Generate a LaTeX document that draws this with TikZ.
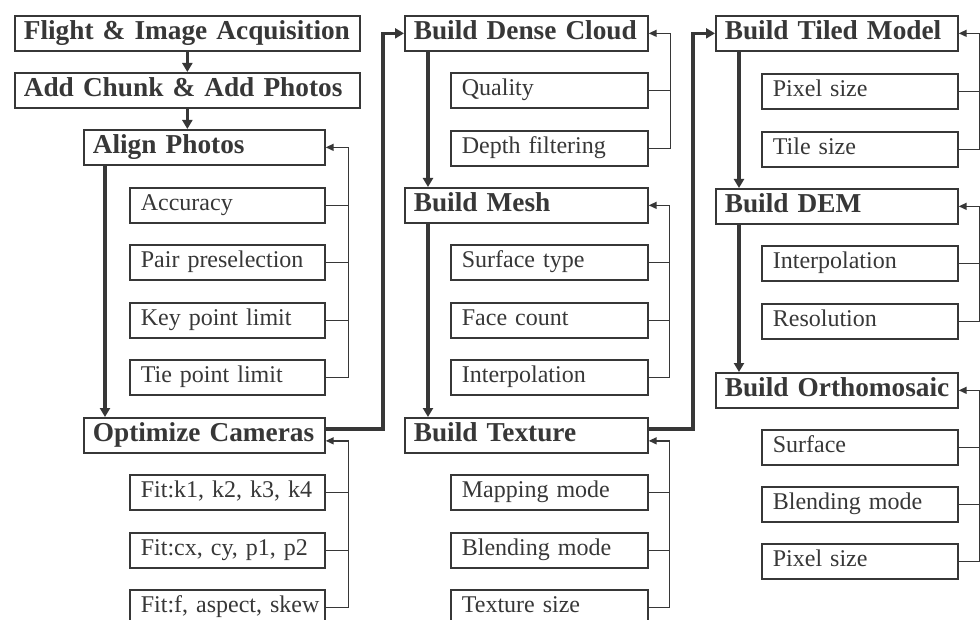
\documentclass[tikz,border=0pt]{standalone}
\usepackage{fontspec}
\setmainfont{Liberation Serif}
\usetikzlibrary{arrows.meta}
\definecolor{ink}{RGB}{55,55,55}
\tikzset{
  box/.style={draw=ink, line width=1.7pt, anchor=north west, inner ysep=0pt,
    minimum height=35pt, align=left, text=ink},
  mainbox/.style={box, inner xsep=9pt, font=\bfseries\fontsize{27.3}{30}\selectfont,
    text height=19pt, text depth=6pt, text width=#1},
  subbox/.style={box, inner xsep=11pt, font=\fontsize{24}{28}\selectfont,
    text height=17pt, text depth=6pt, text width=#1},
  flow/.style={draw=ink, line width=3.4pt, -{Triangle[length=9pt,width=10pt]}},
  fbline/.style={draw=ink, line width=1.5pt},
  fbarrow/.style={fbline, -{Triangle[length=8pt,width=7pt]}}
}
\begin{document}
\begin{tikzpicture}[x=1pt,y=-1pt]
\useasboundingbox (0,0) rectangle (980,620);
\fill[white] (0,0) rectangle (980,620);

% --- column 1: alignment stage ---
\node[mainbox=327pt] (flight) at (14,15) {\mbox{Flight \& Image Acquisition}};
\node[mainbox=327pt] (chunk)  at (14,72) {\mbox{Add Chunk \& Add Photos}};
\node[mainbox=223pt] (align)  at (83,129) {Align Photos};
\node[subbox=173pt] (acc)  at (129,187) {Accuracy};
\node[subbox=173pt] (pair) at (129,244) {Pair preselection};
\node[subbox=173pt] (key)  at (129,302) {Key point limit};
\node[subbox=173pt] (tie)  at (129,359) {Tie point limit};
\node[mainbox=223pt] (optim) at (83,417) {\mbox{Optimize Cameras}};
\node[subbox=173pt] (fitk) at (129,474) {\mbox{Fit:k1, k2, k3, k4}};
\node[subbox=173pt] (fitc) at (129,532) {\mbox{Fit:cx, cy, p1, p2}};
\node[subbox=173pt] (fitf) at (129,589) {\mbox{Fit:f, aspect, skew}};

% --- column 2: dense reconstruction ---
\node[mainbox=225pt] (dense) at (404,15) {\mbox{Build Dense Cloud}};
\node[subbox=175pt] (qual)  at (450,72) {Quality};
\node[subbox=175pt] (depth) at (450,130) {Depth filtering};
\node[mainbox=225pt] (mesh) at (404,187) {Build Mesh};
\node[subbox=175pt] (surft) at (450,244) {Surface type};
\node[subbox=175pt] (face)  at (450,302) {Face count};
\node[subbox=175pt] (interpa) at (450,359) {Interpolation};
\node[mainbox=225pt] (texture) at (404,417) {Build Texture};
\node[subbox=175pt] (mapm)  at (450,474) {Mapping mode};
\node[subbox=175pt] (blenda) at (450,532) {Blending mode};
\node[subbox=175pt] (texs)  at (450,589) {Texture size};

% --- column 3: products ---
\node[mainbox=224pt] (tiled) at (715,15) {\mbox{Build Tiled Model}};
\node[subbox=174pt] (pixa)  at (761,73) {Pixel size};
\node[subbox=174pt] (tiles) at (761,131) {Tile size};
\node[mainbox=224pt] (dem) at (715,188) {Build DEM};
\node[subbox=174pt] (interpb) at (761,245) {Interpolation};
\node[subbox=174pt] (resol)   at (761,303) {Resolution};
\node[mainbox=224pt] (ortho) at (715,372) {\mbox{Build Orthomosaic}};
\node[subbox=174pt] (surf)   at (761,429) {Surface};
\node[subbox=174pt] (blendb) at (761,486) {Blending mode};
\node[subbox=174pt] (pixb)   at (761,543) {Pixel size};

% --- main processing flow ---
\draw[flow] (flight.south) -- (chunk.north);
\draw[flow] (chunk.south) -- (chunk.south |- align.north);
\draw[flow] ([xshift=22pt]align.south west) -- ([xshift=22pt]optim.north west);
\draw[flow] ([yshift=6.5pt]optim.east) -| ([xshift=-21pt]dense.west) -- (dense.west);
\draw[flow] ([xshift=24pt]dense.south west) -- ([xshift=24pt]mesh.north west);
\draw[flow] ([xshift=24pt]mesh.south west) -- ([xshift=24pt]texture.north west);
\draw[flow] ([yshift=6.5pt]texture.east) -| ([xshift=-22pt]tiled.west) -- (tiled.west);
\draw[flow] ([xshift=24pt]tiled.south west) -- ([xshift=24pt]dem.north west);
\draw[flow] ([xshift=24pt]dem.south west) -- ([xshift=24pt]ortho.north west);

% --- parameter feedback lines ---
\foreach \s in {acc,pair,key} \draw[fbline] (\s.east) -- ++(23,0);
\draw[fbarrow] (tie.east) -- ++(23,0) |- (align.east);
\foreach \s in {fitk,fitc} \draw[fbline] (\s.east) -- ++(23,0);
\draw[fbarrow] (fitf.east) -- ++(23,0) |- ([yshift=-5.5pt]optim.east);

\draw[fbline] (qual.east) -- ++(22,0);
\draw[fbarrow] (depth.east) -- ++(22,0) |- (dense.east);
\foreach \s in {surft,face} \draw[fbline] (\s.east) -- ++(21,0);
\draw[fbarrow] (interpa.east) -- ++(21,0) |- (mesh.east);
\foreach \s in {mapm,blenda} \draw[fbline] (\s.east) -- ++(21,0);
\draw[fbarrow] (texs.east) -- ++(21,0) |- ([yshift=-5.5pt]texture.east);

\draw[fbline] (pixa.east) -- ++(21,0);
\draw[fbarrow] (tiles.east) -- ++(21,0) |- (tiled.east);
\draw[fbline] (interpb.east) -- ++(21,0);
\draw[fbarrow] (resol.east) -- ++(21,0) |- (dem.east);
\foreach \s in {surf,blendb} \draw[fbline] (\s.east) -- ++(21,0);
\draw[fbarrow] (pixb.east) -- ++(21,0) |- (ortho.east);
\end{tikzpicture}
\end{document}
